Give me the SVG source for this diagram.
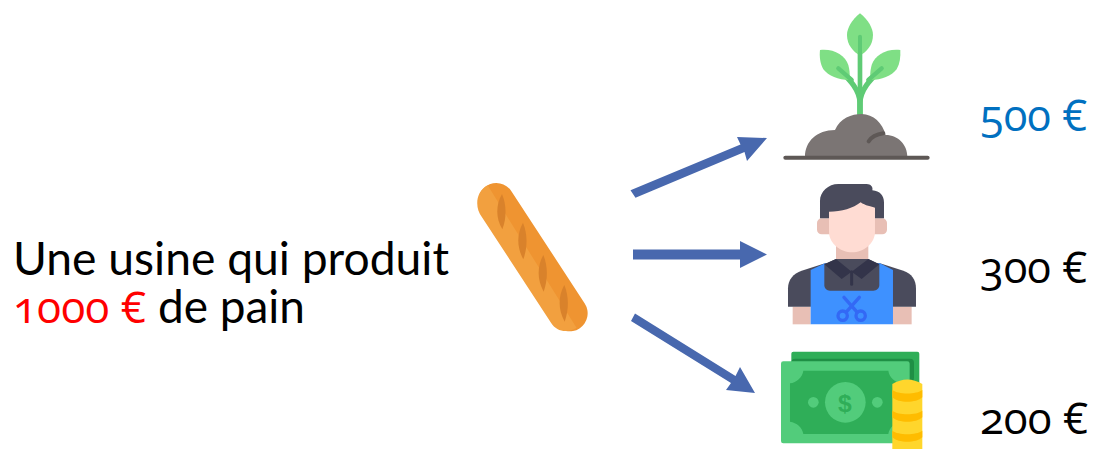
<svg xmlns="http://www.w3.org/2000/svg" width="1095" height="449" viewBox="0 0 1095 449">
<defs>
<style>
text{font-family:"Lato","Liberation Sans",sans-serif;font-size:46px;fill:#000}
.num{font-family:"Open Sans","Liberation Sans",sans-serif;font-size:44px;font-feature-settings:"onum" 1;font-variant-numeric:oldstyle-nums}
.arr{fill:#4868AE}
.stem{fill:none;stroke:#5FCB75;stroke-linecap:round}
</style>
</defs>
<rect width="1095" height="449" fill="#fff"/>
<g id="label-usine">
<text><tspan x="13" y="275" textLength="436" lengthAdjust="spacingAndGlyphs">Une usine qui produit</tspan><tspan class="num" x="13" y="323" fill="#FF0000" textLength="133" lengthAdjust="spacingAndGlyphs">1000 €</tspan><tspan x="158" y="323" textLength="147" lengthAdjust="spacingAndGlyphs">de pain</tspan></text>
</g>
<g id="node-baguette" transform="translate(465 170) scale(.3333)">
<path d="M94 93L314 430" stroke="#EF9431" stroke-width="108" stroke-linecap="round" fill="none"/>
<path d="M68 46C30 66 30 115 50 140L258 458C275 485 305 490 335 474Z" fill="#F2A03F"/>
<g fill="#D9822B">
<path d="M111 72C125 105 125 145 112 178C92 145 92 105 111 72Z"/>
<path d="M174 158C188 192 188 232 175 268C155 232 155 192 174 158Z"/>
<path d="M235 255C249 289 249 329 236 365C216 329 216 289 235 255Z"/>
<path d="M298 345C312 379 312 419 299 455C279 419 279 379 298 345Z"/>
</g>
</g>
<g id="connectors">
<path class="arr" d="M630.500 190.300L740.500 144.500L737 137L767 138L747 161L744.500 152L635.500 197.700Z"/>
<path class="arr" d="M633 249.500H740V241L767 254.500L740 268V259.500H633Z"/>
<path class="arr" d="M635 313.500L735.500 376L740 367L755 393L726 390L731 383L631 321Z"/>
</g>
<g id="node-plant" transform="translate(770 0) scale(.3333)">
<path class="stem" d="M270 110V345" stroke-width="14"/>
<path class="stem" d="M270 345V310C270 270 240 240 205 205" stroke-width="16"/>
<path class="stem" d="M270 345V310C270 270 300 240 335 205" stroke-width="16"/>
<path d="M270 40C295 60 309 85 309 105C309 135 290 155 270 167C250 155 231 135 231 105C231 85 245 60 270 40Z" fill="#7FDF85"/>
<path d="M150 150C190 145 225 165 235 195C240 215 240 228 238 240C205 240 175 228 160 208C150 190 148 170 150 150Z" fill="#7FDF85"/>
<path d="M391 150C350 145 315 165 305 195C300 215 300 228 302 240C335 240 365 228 380 208C390 190 392 170 391 150Z" fill="#7FDF85"/>
<path class="stem" d="M270 110V200" stroke-width="12"/>
<path class="stem" d="M205 205L245 240" stroke-width="13"/>
<path class="stem" d="M335 205L295 240" stroke-width="13"/>
<path d="M105 470C105 425 140 390 195 390C210 355 245 342 275 342C310 342 338 370 347 405C385 405 412 435 412 470Z" fill="#7B7574"/>
<path d="M296 424C305 410 320 403 340 400" stroke="#5E5856" stroke-width="12" stroke-linecap="round" fill="none"/>
<path d="M46 473H473" stroke="#5E5856" stroke-width="12" stroke-linecap="round" fill="none"/>
</g>
<g id="node-worker" transform="translate(770 175) scale(.3333)">
<path d="M198 200H295V275H198Z" fill="#E8BFB5"/>
<rect x="141" y="130" width="50" height="48" rx="14" fill="#E8BFB5"/>
<rect x="301" y="130" width="50" height="48" rx="14" fill="#E8BFB5"/>
<path d="M177 80H315V170C315 205 280 232 246 232C212 232 177 205 177 170Z" fill="#FFDCD3"/>
<path d="M150 130V78C150 50 175 27 205 27H290C302 27 310 36 307 46C330 48 342 62 342 82V130H315V98C305 95 285 92 272 82C250 100 215 110 177 110V130Z" fill="#4A4B5C"/>
<path d="M68 395H122V448H68Z" fill="#E8BFB5"/>
<path d="M369 395H425V448H369Z" fill="#E8BFB5"/>
<path d="M54 395V340C54 315 70 295 95 287L165 265H330L400 287C425 295 438 315 438 340V395Z" fill="#4A4B5C"/>
<path d="M122 285L165 265H330L369 285V448H122Z" fill="#3E91FF"/>
<path d="M163 268L198 252H295L328 268V330C328 340 320 347 310 347H180C170 347 163 340 163 330Z" fill="#4A4B5C"/>
<path d="M163 268L198 252L245 290L215 312ZM328 268L295 252L245 290L275 312Z" fill="#33344A"/>
<path d="M245 290V328" stroke="#33344A" stroke-width="9" stroke-linecap="round"/>
<g fill="none" stroke="#3369F5" stroke-width="10">
<path d="M222 367L262 412M268 367L228 412" stroke-linecap="round"/>
<circle cx="218" cy="422" r="14"/>
<circle cx="272" cy="422" r="14"/>
</g>
</g>
<g id="node-money" transform="translate(770 340) scale(.3333)">
<rect x="64" y="35" width="384" height="250" rx="6" fill="#2FAE58"/>
<rect x="64" y="56" width="368" height="70" rx="12" fill="#1F8F45"/>
<rect x="33" y="64" width="386" height="246" rx="7" fill="#52CC7B"/>
<path d="M100 92H355C358 112 375 128 395 130V245C375 248 358 262 355 282H100C97 262 80 248 60 245V130C80 128 97 112 100 92Z" fill="#2FAE58"/>
<circle cx="226" cy="187" r="61" fill="#52CC7B"/>
<circle cx="130" cy="187" r="16" fill="#52CC7B"/>
<circle cx="322" cy="187" r="16" fill="#52CC7B"/>
<text x="204" y="216" style="font-size:74px;font-weight:700;fill:#2FAE58;font-family:'Liberation Sans',sans-serif">$</text>
<path d="M367 132Q412 105 457 132V327H367Z" fill="#FFD62C"/>
<path d="M367 150C385 164 439 164 457 150V172C439 190 385 190 367 172ZM367 212C385 226 439 226 457 212V232C439 250 385 250 367 232ZM367 272C385 286 439 286 457 272V292C439 310 385 310 367 292Z" fill="#FFBC00"/>
</g>
<g id="label-500"><text class="num" x="980" y="131" textLength="107" lengthAdjust="spacingAndGlyphs" style="fill:#0070C0">500 €</text></g>
<g id="label-300"><text class="num" x="980" y="283" textLength="107" lengthAdjust="spacingAndGlyphs">300 €</text></g>
<g id="label-200"><text class="num" x="980" y="434" textLength="108" lengthAdjust="spacingAndGlyphs">200 €</text></g>
</svg>
